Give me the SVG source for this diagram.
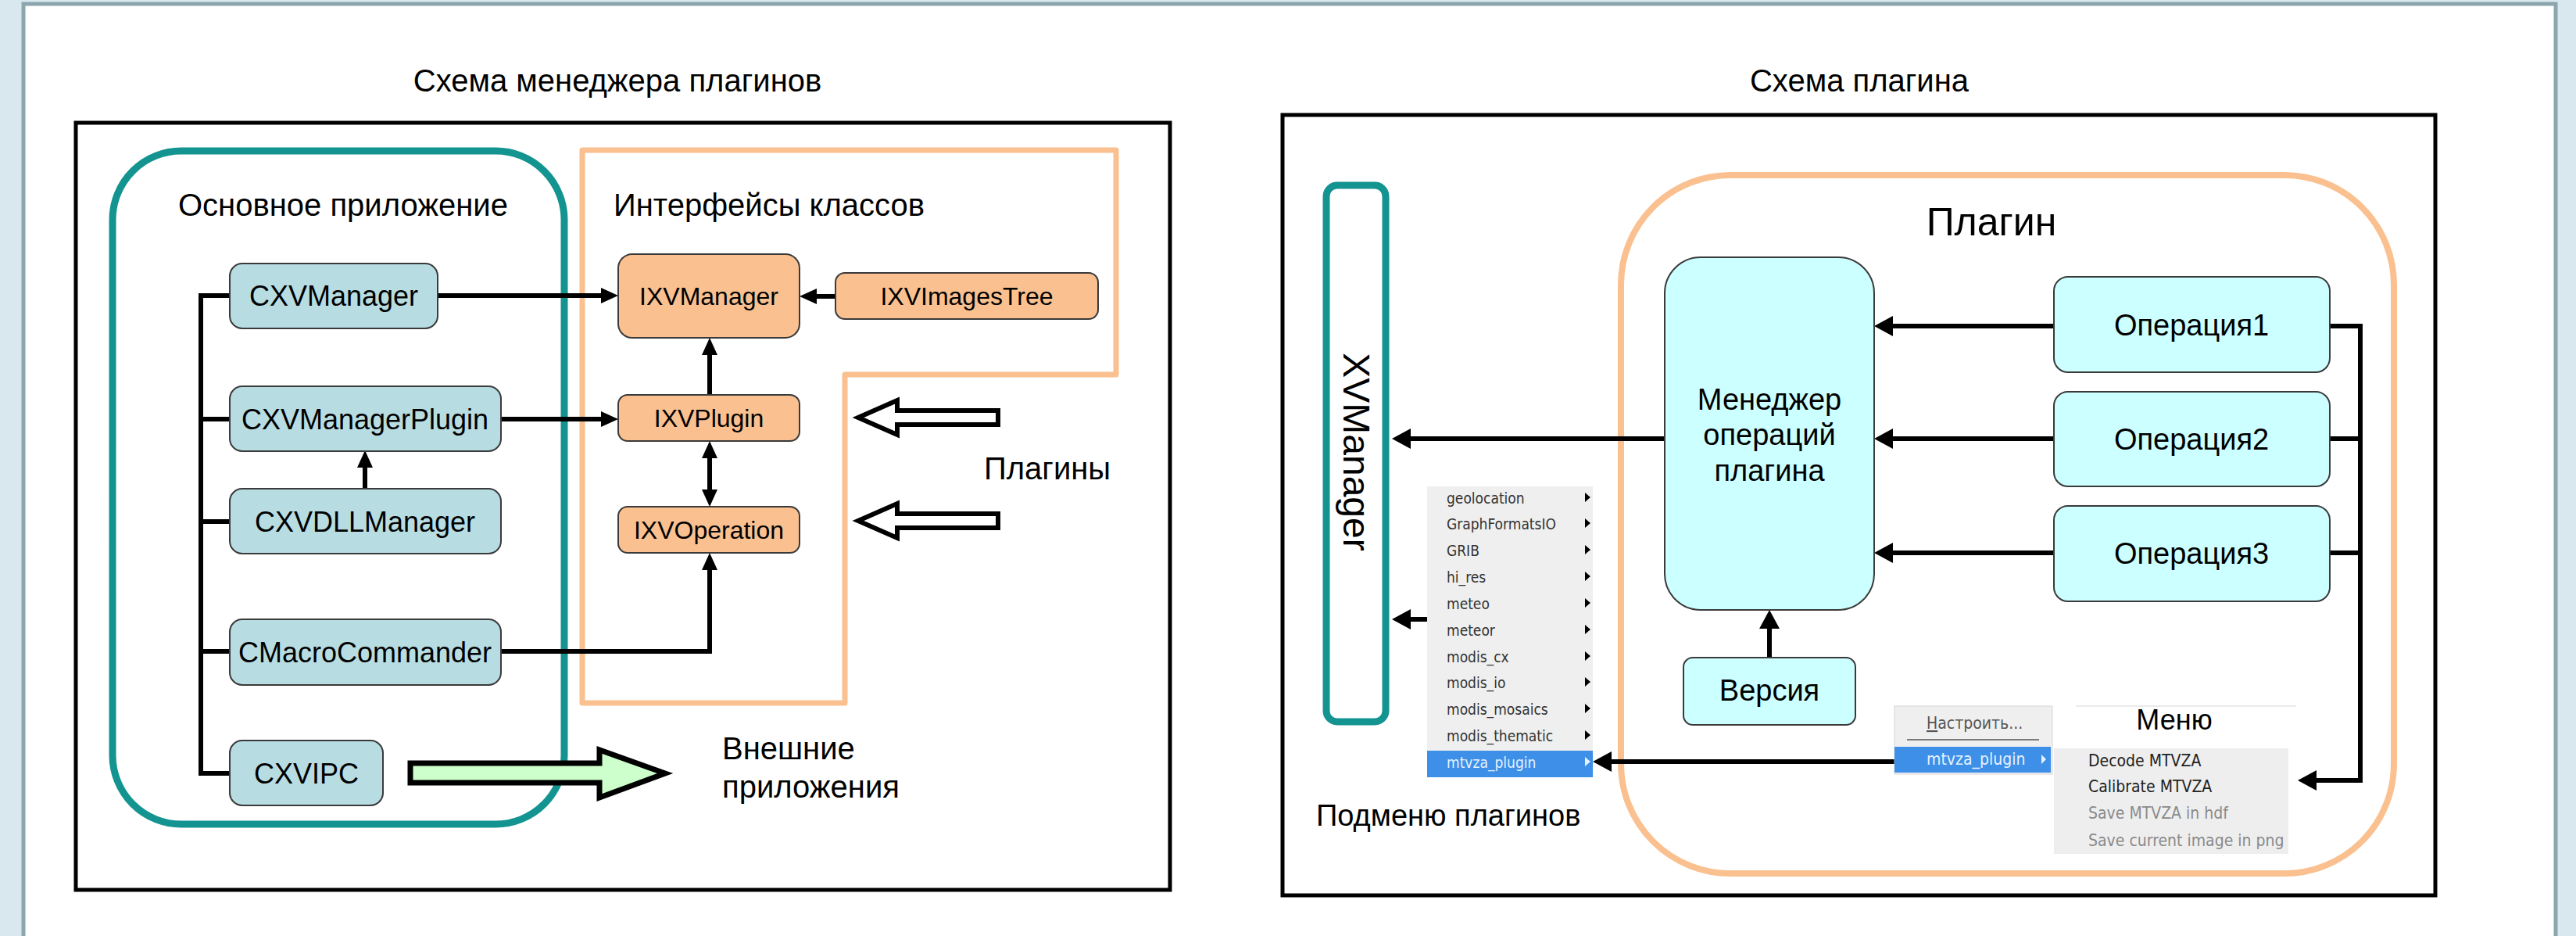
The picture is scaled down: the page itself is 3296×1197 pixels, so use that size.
<svg xmlns="http://www.w3.org/2000/svg" width="3296" height="1197" viewBox="0 0 3296 1197">
<style>
.t{font-family:"Liberation Sans",Arial,sans-serif;fill:#000}
.title{font-size:40px}
.lbl{font-size:40px}
.cxv{fill:#b7dde3;stroke:#3a3a3a;stroke-width:2}
.ixv{fill:#fac090;stroke:#3a3a3a;stroke-width:2}
.cy{fill:#ccffff;stroke:#3a3a3a;stroke-width:2}
.nt{font-size:36px;text-anchor:middle}
.it{font-size:32px;text-anchor:middle}
.rt{font-size:38px;text-anchor:middle}
.frame{fill:none;stroke:#000;stroke-width:5}
.con{fill:none;stroke:#000;stroke-width:6}
.menu{font-family:"DejaVu Sans Condensed","DejaVu Sans",sans-serif;font-stretch:condensed}
.sm{font-size:19px;fill:#333}
.tri{fill:#000}
</style>
<defs>
<marker id="ah" markerUnits="userSpaceOnUse" viewBox="0 0 22 20" markerWidth="22" markerHeight="20" refX="12" refY="10" orient="auto-start-reverse">
<path d="M0,0 L22,10 L0,20 z" fill="#000"/>
</marker>
<marker id="ah2" markerUnits="userSpaceOnUse" viewBox="0 0 24 26" markerWidth="24" markerHeight="26" refX="14" refY="13" orient="auto-start-reverse">
<path d="M0,0 L24,13 L0,26 z" fill="#000"/>
</marker>
</defs>

<!-- slide background -->
<rect x="0" y="0" width="3296" height="1197" fill="#d9e8ef"/>
<rect x="30" y="5" width="3240" height="1205" fill="#fff" stroke="#8ba6ad" stroke-width="5"/>

<!-- ===== Left diagram ===== -->
<text class="t title" x="790" y="117" text-anchor="middle">Схема менеджера плагинов</text>
<rect class="frame" x="97" y="157" width="1400" height="981"/>

<g id="main-app">
<rect x="144" y="193" width="578" height="861" rx="88" fill="none" stroke="#139490" stroke-width="9"/>
<text class="t lbl" x="228" y="276">Основное приложение</text>
</g>
<g id="interfaces">
<path d="M745,192 H1428 V479 H1081 V899 H745 Z" fill="none" stroke="#fac08f" stroke-width="7" stroke-linejoin="round"/>
<text class="t lbl" x="785" y="276">Интерфейсы классов</text>
</g>

<g id="connectors-left">
<path class="con" d="M294,378 H257 V989 H294"/>
<path class="con" d="M257,536 H294 M257,667 H294 M257,833 H294"/>
<path class="con" d="M560,378 H781" marker-end="url(#ah)"/>
<path class="con" d="M641,536 H781" marker-end="url(#ah)"/>
<path class="con" d="M1069,379 H1033" marker-end="url(#ah)"/>
<path class="con" d="M908,505 V442" marker-end="url(#ah)"/>
<path class="con" d="M908,574 V638" marker-start="url(#ah)" marker-end="url(#ah)"/>
<path class="con" d="M641,833 H908 V717" marker-end="url(#ah)"/>
<path class="con" d="M467,625 V586" marker-end="url(#ah)"/>
<polygon points="1098,534 1148,512 1148,525 1277,525 1277,543 1148,543 1148,556" fill="#fff" stroke="#000" stroke-width="6" stroke-linejoin="miter"/>
<polygon points="1098,666 1148,644 1148,657 1277,657 1277,675 1148,675 1148,688" fill="#fff" stroke="#000" stroke-width="6" stroke-linejoin="miter"/>
<polygon points="525,976 767,976 767,959 851,989 767,1020 767,1001 525,1001" fill="#ccffcc" stroke="#000" stroke-width="7" stroke-linejoin="miter"/>
</g>

<g id="CXVManager"><rect class="cxv" x="294" y="337" width="266" height="83" rx="16"/><text class="t nt" x="427" y="391">CXVManager</text></g>
<g id="CXVManagerPlugin"><rect class="cxv" x="294" y="494" width="347" height="83" rx="16"/><text class="t nt" x="467" y="549">CXVManagerPlugin</text></g>
<g id="CXVDLLManager"><rect class="cxv" x="294" y="625" width="347" height="83" rx="16"/><text class="t nt" x="467" y="680">CXVDLLManager</text></g>
<g id="CMacroCommander"><rect class="cxv" x="294" y="792" width="347" height="84" rx="16"/><text class="t nt" x="467" y="847">CMacroCommander</text></g>
<g id="CXVIPC"><rect class="cxv" x="294" y="947" width="196" height="83" rx="16"/><text class="t nt" x="392" y="1002">CXVIPC</text></g>

<g id="IXVManager"><rect class="ixv" x="791" y="325" width="232" height="107" rx="18"/><text class="t it" x="907" y="390">IXVManager</text></g>
<g id="IXVImagesTree"><rect class="ixv" x="1069" y="349" width="336" height="59" rx="12"/><text class="t it" x="1237" y="390">IXVImagesTree</text></g>
<g id="IXVPlugin"><rect class="ixv" x="791" y="505" width="232" height="59" rx="12"/><text class="t it" x="907" y="546">IXVPlugin</text></g>
<g id="IXVOperation"><rect class="ixv" x="791" y="648" width="232" height="59" rx="12"/><text class="t it" x="907" y="689">IXVOperation</text></g>

<g id="plugins-label"><text class="t lbl" x="1259" y="613">Плагины</text></g>
<g id="external-label"><text class="t lbl" x="924" y="971">Внешние</text><text class="t lbl" x="924" y="1020">приложения</text></g>

<!-- ===== Right diagram ===== -->
<text class="t title" x="2379" y="117" text-anchor="middle">Схема плагина</text>
<rect class="frame" x="1641" y="147" width="1475" height="998"/>

<g id="XVManager">
<rect x="1697" y="237" width="76" height="686" rx="14" fill="#fff" stroke="#139490" stroke-width="9"/>
<text class="t" font-size="48" transform="translate(1719,578) rotate(90)" text-anchor="middle">XVManager</text>
</g>

<g id="plugin">
<rect x="2074" y="224" width="989" height="893" rx="140" fill="none" stroke="#fac08f" stroke-width="8"/>
<text class="t" font-size="50" x="2548" y="301" text-anchor="middle">Плагин</text>
</g>

<g id="connectors-right">
<path class="con" d="M2130,561 H1791" marker-end="url(#ah2)"/>
<path class="con" d="M1826,792 H1791" marker-end="url(#ah2)"/>
<path class="con" d="M2628,417 H2408" marker-end="url(#ah2)"/>
<path class="con" d="M2628,561 H2408" marker-end="url(#ah2)"/>
<path class="con" d="M2628,707 H2408" marker-end="url(#ah2)"/>
<path class="con" d="M2264,841 V790" marker-end="url(#ah2)"/>
<path class="con" d="M2981,417 H3020 V998 H2950" marker-end="url(#ah2)"/>
<path class="con" d="M2981,561 H3020 M2981,707 H3020"/>
<path class="con" d="M2424,974 H2048" marker-end="url(#ah2)"/>
</g>

<g id="op-manager"><rect class="cy" x="2130" y="329" width="268" height="451" rx="46"/>
<text class="t rt" x="2264" y="524">Менеджер</text><text class="t rt" x="2264" y="569">операций</text><text class="t rt" x="2264" y="615">плагина</text></g>
<g id="op1"><rect class="cy" x="2628" y="354" width="353" height="122" rx="18"/><text class="t rt" x="2804" y="429">Операция1</text></g>
<g id="op2"><rect class="cy" x="2628" y="501" width="353" height="121" rx="18"/><text class="t rt" x="2804" y="575">Операция2</text></g>
<g id="op3"><rect class="cy" x="2628" y="647" width="353" height="122" rx="18"/><text class="t rt" x="2804" y="721">Операция3</text></g>
<g id="version"><rect class="cy" x="2154" y="841" width="220" height="86" rx="12"/><text class="t rt" x="2264" y="896">Версия</text></g>

<g id="submenu">
<rect x="1826" y="622" width="212" height="372" fill="#efefef"/>
<rect x="1826" y="960" width="212" height="34" fill="#3d8fe8"/>
<g class="menu sm">
<text x="1851" y="644">geolocation</text>
<text x="1851" y="677">GraphFormatsIO</text>
<text x="1851" y="711">GRIB</text>
<text x="1851" y="745">hi_res</text>
<text x="1851" y="779">meteo</text>
<text x="1851" y="813">meteor</text>
<text x="1851" y="847">modis_cx</text>
<text x="1851" y="880">modis_io</text>
<text x="1851" y="914">modis_mosaics</text>
<text x="1851" y="948">modis_thematic</text>
<text x="1851" y="982" fill="#e6f2ff">mtvza_plugin</text>
</g>
<path class="tri" d="M2028,630 l7,6 l-7,6 z M2028,663 l7,6 l-7,6 z M2028,697 l7,6 l-7,6 z M2028,731 l7,6 l-7,6 z M2028,765 l7,6 l-7,6 z M2028,799 l7,6 l-7,6 z M2028,833 l7,6 l-7,6 z M2028,866 l7,6 l-7,6 z M2028,900 l7,6 l-7,6 z M2028,934 l7,6 l-7,6 z"/>
<path d="M2028,968 l7,6 l-7,6 z" fill="#e6f2ff"/>
<text class="t" font-size="38" x="1684" y="1056">Подменю плагинов</text>
</g>

<g id="menu">
<rect x="2424" y="903" width="202" height="87" fill="#efefef" stroke="#d6d6d6" stroke-width="1"/>
<text class="menu" font-size="21" fill="#555" x="2465" y="932"><tspan text-decoration="underline">Н</tspan>астроить...</text>
<line x1="2440" y1="946" x2="2609" y2="946" stroke="#555" stroke-width="1.5"/>
<rect x="2424" y="955" width="200" height="33" fill="#3d8fe8"/>
<text class="menu" font-size="21" fill="#e6f2ff" x="2465" y="978">mtvza_plugin</text>
<path d="M2612,965 l6,6 l-6,6 z" fill="#e6f2ff"/>
<line x1="2656" y1="903" x2="2938" y2="903" stroke="#e4e4e4" stroke-width="1.5"/>
<text class="t" font-size="36" x="2782" y="933" text-anchor="middle">Меню</text>
<rect x="2628" y="957" width="300" height="135" fill="#eeeeee"/>
<g class="menu" font-size="21">
<text x="2672" y="980" fill="#222">Decode MTVZA</text>
<text x="2672" y="1013" fill="#222">Calibrate MTVZA</text>
<text x="2672" y="1047" fill="#8a8a8a">Save MTVZA in hdf</text>
<text x="2672" y="1082" fill="#8a8a8a">Save current image in png</text>
</g>
</g>
</svg>
